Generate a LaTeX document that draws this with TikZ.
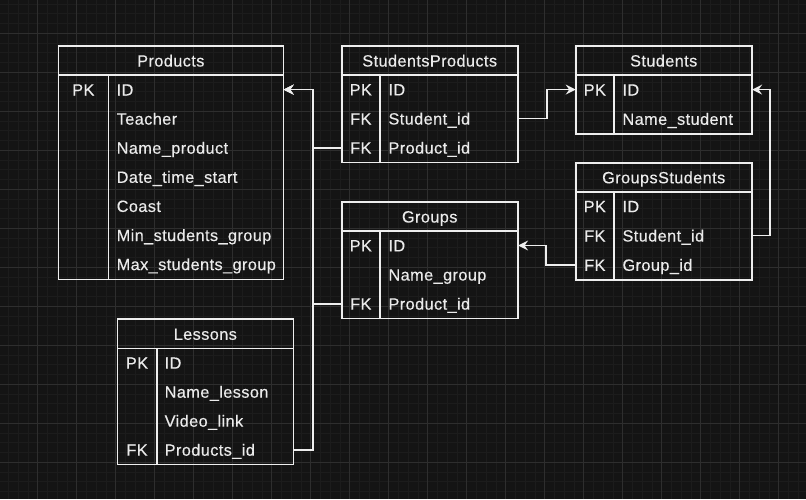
\documentclass[tikz,border=0pt]{standalone}
\usepackage{fontspec}
\setmainfont[LetterSpace=2.5,FakeBold=0.35]{Liberation Sans}
\usetikzlibrary{arrows.meta}
\definecolor{bgc}{HTML}{141414}
\definecolor{gridminor}{HTML}{1C1C1C}
\definecolor{gridmajor}{HTML}{2E2E2E}
\definecolor{linec}{HTML}{EEEEEE}
\definecolor{txtc}{HTML}{EBEBEB}
\tikzset{
  frame/.style={draw=linec, line width=1.6pt},
  sep/.style={draw=linec, line width=1.6pt},
  row/.style={inner sep=0pt, minimum height=29pt, anchor=west},
  txt/.style={inner sep=0pt, text=txtc, font=\fontsize{16.3}{18}\selectfont, text height=11.8pt, text depth=0pt},
  hdr/.style={txt},
  key/.style={txt},
  fld/.style={txt, anchor=west},
  conn/.style={draw=linec, line width=1.6pt, -{Stealth[length=10pt,width=10pt,inset=3.5pt]}},
}
\begin{document}
\begin{tikzpicture}[x=1pt,y=-1pt]
\fill[bgc] (0,0) rectangle (806,499);
\useasboundingbox (0,0) rectangle (806,499);
% grid
\foreach \i in {0,...,82} {\draw[gridminor, line width=0.8pt] ({8.45+9.75*\i},0) -- ({8.45+9.75*\i},499);}
\foreach \i in {0,...,51} {\draw[gridminor, line width=0.8pt] (0,{4.05+9.75*\i}) -- (806,{4.05+9.75*\i});}
\foreach \i in {0,...,20} {\draw[gridmajor, line width=0.8pt] ({37.7+39*\i},0) -- ({37.7+39*\i},499);}
\foreach \i in {0,...,12} {\draw[gridmajor, line width=0.8pt] (0,{33.3+39*\i}) -- (806,{33.3+39*\i});}

% ---------- Products ----------
\draw[frame] (58.3,45.7) rectangle (283.3,279.3);
\draw[sep] (58.3,75) -- (283.3,75);
\draw[sep] (108.3,75) -- (108.3,279.3);
\node[hdr] (pH) at (170.8,60.6) {Products};
\node[row, minimum width=225pt] (pID) at (58.3,89.6) {};
\node[row, minimum width=225pt] (pTe) at (58.3,118.7) {};
\node[row, minimum width=225pt] (pNa) at (58.3,147.8) {};
\node[row, minimum width=225pt] (pDa) at (58.3,176.9) {};
\node[row, minimum width=225pt] (pCo) at (58.3,206.0) {};
\node[row, minimum width=225pt] (pMi) at (58.3,235.1) {};
\node[row, minimum width=225pt] (pMa) at (58.3,264.2) {};
\node[key] (pIDk) at (83.3,89.6) {PK};
\node[fld] (pIDf) at (116.5,89.6) {ID};
\node[fld] (pTef) at (116.5,118.7) {Teacher};
\node[fld] (pNaf) at (116.5,147.8) {Name\_product};
\node[fld] (pDaf) at (116.5,176.9) {Date\_time\_start};
\node[fld] (pCof) at (116.5,206.0) {Coast};
\node[fld] (pMif) at (116.5,235.1) {Min\_students\_group};
\node[fld] (pMaf) at (116.5,264.2) {Max\_students\_group};

% ---------- StudentsProducts ----------
\draw[frame] (341.7,45.7) rectangle (517.7,162.3);
\draw[sep] (341.7,75) -- (517.7,75);
\draw[sep] (380,75) -- (380,162.3);
\node[hdr] (spH) at (429.7,60.6) {StudentsProducts};
\node[row, minimum width=176pt] (spID) at (341.7,89.5) {};
\node[row, minimum width=176pt] (spSid) at (341.7,118.6) {};
\node[row, minimum width=176pt] (spPid) at (341.7,147.7) {};
\node[key] (spIDk) at (360.8,89.5) {PK};
\node[key] (spSidk) at (360.8,118.6) {FK};
\node[key] (spPidk) at (360.8,147.7) {FK};
\node[fld] (spIDf) at (388.3,89.5) {ID};
\node[fld] (spSidf) at (388.3,118.6) {Student\_id};
\node[fld] (spPidf) at (388.3,147.7) {Product\_id};

% ---------- Students ----------
\draw[frame] (575.7,45.7) rectangle (751.7,133.7);
\draw[sep] (575.7,75) -- (751.7,75);
\draw[sep] (614,75) -- (614,133.7);
\node[hdr] (sH) at (663.7,60.6) {Students};
\node[row, minimum width=176pt] (sID) at (575.7,89.6) {};
\node[row, minimum width=176pt] (sNa) at (575.7,118.9) {};
\node[key] (sIDk) at (594.8,89.6) {PK};
\node[fld] (sIDf) at (622.3,89.6) {ID};
\node[fld] (sNaf) at (622.3,118.9) {Name\_student};

% ---------- GroupsStudents ----------
\draw[frame] (575.7,162.7) rectangle (751.7,280);
\draw[sep] (575.7,191.7) -- (751.7,191.7);
\draw[sep] (614,191.7) -- (614,280);
\node[hdr] (gsH) at (663.7,177.4) {GroupsStudents};
\node[row, minimum width=176pt] (gsID) at (575.7,206.3) {};
\node[row, minimum width=176pt] (gsSid) at (575.7,235.6) {};
\node[row, minimum width=176pt] (gsGid) at (575.7,264.9) {};
\node[key] (gsIDk) at (594.8,206.3) {PK};
\node[key] (gsSidk) at (594.8,235.6) {FK};
\node[key] (gsGidk) at (594.8,264.9) {FK};
\node[fld] (gsIDf) at (622.3,206.3) {ID};
\node[fld] (gsSidf) at (622.3,235.6) {Student\_id};
\node[fld] (gsGidf) at (622.3,264.9) {Group\_id};

% ---------- Groups ----------
\draw[frame] (341.7,201.7) rectangle (517.7,318.3);
\draw[sep] (341.7,231) -- (517.7,231);
\draw[sep] (380,231) -- (380,318.3);
\node[hdr] (gH) at (429.7,216.6) {Groups};
\node[row, minimum width=176pt] (gID) at (341.7,245.5) {};
\node[row, minimum width=176pt] (gNa) at (341.7,274.6) {};
\node[row, minimum width=176pt] (gPid) at (341.7,303.7) {};
\node[key] (gIDk) at (360.8,245.5) {PK};
\node[key] (gPidk) at (360.8,303.7) {FK};
\node[fld] (gIDf) at (388.3,245.5) {ID};
\node[fld] (gNaf) at (388.3,274.6) {Name\_group};
\node[fld] (gPidf) at (388.3,303.7) {Product\_id};

% ---------- Lessons ----------
\draw[frame] (117.3,319) rectangle (293.3,464.3);
\draw[sep] (117.3,348.3) -- (293.3,348.3);
\draw[sep] (156.7,348.3) -- (156.7,464.3);
\node[hdr] (lH) at (205.3,333.9) {Lessons};
\node[row, minimum width=176pt] (lID) at (117.3,362.8) {};
\node[row, minimum width=176pt] (lNa) at (117.3,391.8) {};
\node[row, minimum width=176pt] (lVi) at (117.3,420.8) {};
\node[row, minimum width=176pt] (lPid) at (117.3,449.8) {};
\node[key] (lIDk) at (137,362.8) {PK};
\node[key] (lPidk) at (137,449.8) {FK};
\node[fld] (lIDf) at (164.5,362.8) {ID};
\node[fld] (lNaf) at (164.5,391.8) {Name\_lesson};
\node[fld] (lVif) at (164.5,420.8) {Video\_link};
\node[fld] (lPidf) at (164.5,449.8) {Products\_id};

% ---------- connectors ----------
\coordinate (busP) at (313,0);
\coordinate (busS) at (546.7,0);
\coordinate (busR) at (770,0);
\coordinate (busG) at (546,0);
\draw[conn] (spPid.west) -- (spPid.west -| busP) |- (pID.east);
\draw[conn] (gPid.west) -- (gPid.west -| busP) |- (pID.east);
\draw[conn] (lPid.east) -- (lPid.east -| busP) |- (pID.east);
\draw[conn] (spSid.east) -- (spSid.east -| busS) |- (sID.west);
\draw[conn] (gsSid.east) -- (gsSid.east -| busR) |- (sID.east);
\draw[conn] (gsGid.west) -- (gsGid.west -| busG) |- (gID.east);
\end{tikzpicture}
\end{document}
